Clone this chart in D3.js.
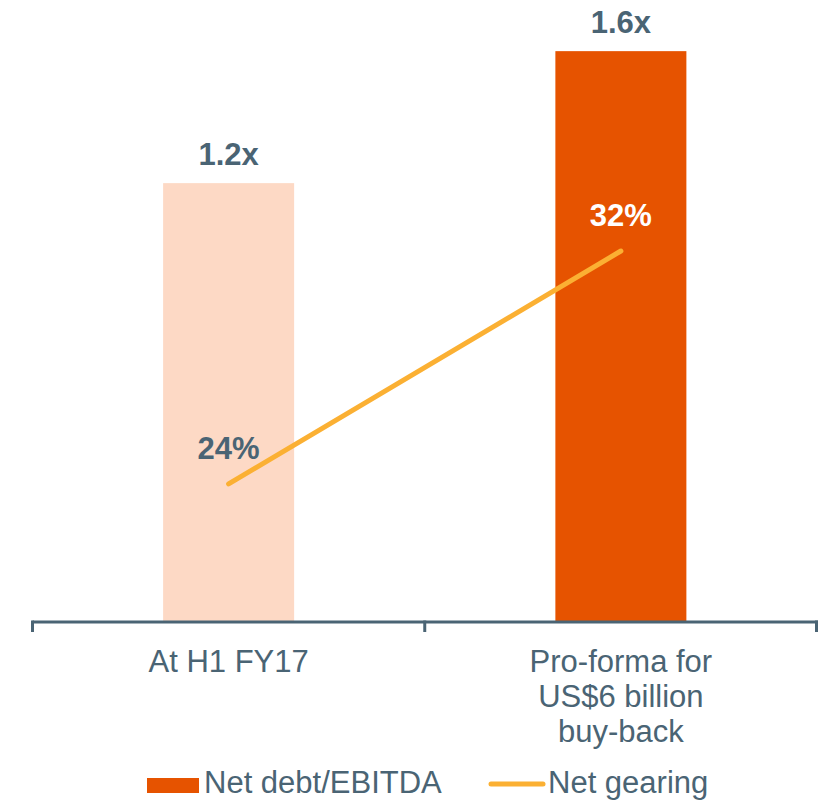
<!DOCTYPE html>
<html>
<head>
<meta charset="utf-8">
<script src="https://cdn.jsdelivr.net/npm/d3@7"></script>
<style>
  body { margin: 0; background: #fff; }
  text { font-family: "Liberation Sans", Arial, sans-serif; }
</style>
</head>
<body>
<div id="chart"></div>
<script>
// données
const categories = ["At H1 FY17", "Pro-forma for\nUS$6 billion\nbuy-back"]
const debtEbitda = [1.2, 1.6]
const debtLabels = ["1.2x", "1.6x"]
const gearing = [24, 32]
const gearingLabels = ["24%", "32%"]
const legendNames = ["Net debt/EBITDA", "Net gearing"]

const W = 818, H = 802
const textColor = "#4a6474"
const barColors = ["#fdd9c5", "#e65300"]
const lineColor = "#fbb033"

let margin = { top: 0, left: 32.5, right: 1, bottom: 180 },
    axisY = 622

let svg = d3.select("#chart")
    .append("svg")
    .attr("width", W)
    .attr("height", H)

// X : bandes par catégorie
let x = d3.scaleBand()
    .domain(categories)
    .range([margin.left, W - margin.right])
    .paddingInner(0)
    .paddingOuter(0)

let barW = x.bandwidth() * 0.334

// Y principal (ratio), l'axe ne part pas de zéro comme dans l'original
let y = d3.scaleLinear()
    .domain([-0.13, 1.755])
    .range([axisY, 0])

// Y secondaire (%)
let y2 = d3.scaleLinear()
    .domain([19.26, 40.62])
    .range([axisY, 0])

// barres
svg.append("g")
    .selectAll("rect")
    .data(debtEbitda)
    .join("rect")
    .attr("x", (d, i) => x(categories[i]) + x.bandwidth() / 2 - barW / 2)
    .attr("y", d => y(d))
    .attr("width", barW)
    .attr("height", d => axisY - y(d))
    .attr("fill", (d, i) => barColors[i])

// étiquettes des barres
svg.append("g")
    .selectAll("text")
    .data(debtEbitda)
    .join("text")
    .attr("x", (d, i) => x(categories[i]) + x.bandwidth() / 2)
    .attr("y", d => y(d) - 18)
    .attr("text-anchor", "middle")
    .attr("font-size", 31)
    .attr("font-weight", "bold")
    .attr("fill", textColor)
    .text((d, i) => debtLabels[i])

// axe X
let xAxis = svg.append("g")
    .attr("transform", "translate(0," + axisY + ")")
    .call(d3.axisBottom(x).tickSize(0).tickFormat(""))
xAxis.select(".domain").remove()
xAxis.append("line")
    .attr("x1", margin.left).attr("x2", W)
    .attr("stroke", textColor).attr("stroke-width", 3)
let bounds = [x.range()[0], x.range()[0] + x.step(), x.range()[1] - 0.5]
xAxis.selectAll(".sep")
    .data(bounds)
    .join("line")
    .attr("class", "sep")
    .attr("x1", d => d).attr("x2", d => d)
    .attr("y1", -1.5).attr("y2", 10)
    .attr("stroke", textColor).attr("stroke-width", 3)

// libellés des catégories
svg.append("g")
    .selectAll("text")
    .data(categories)
    .join("text")
    .attr("x", d => x(d) + x.bandwidth() / 2)
    .attr("y", 672)
    .attr("text-anchor", "middle")
    .attr("font-size", 31)
    .attr("fill", textColor)
    .each(function (d) {
        d.split("\n").forEach((l, i) => {
            d3.select(this).append("tspan")
                .attr("x", x(d) + x.bandwidth() / 2)
                .attr("dy", i === 0 ? 0 : 35)
                .text(l)
        })
    })

// ligne de gearing
let line = d3.line()
    .x((d, i) => x(categories[i]) + x.bandwidth() / 2)
    .y(d => y2(d))

svg.append("path")
    .datum(gearing)
    .attr("d", line)
    .attr("fill", "none")
    .attr("stroke", lineColor)
    .attr("stroke-width", 5)
    .attr("stroke-linecap", "round")

svg.append("g")
    .selectAll("text")
    .data(gearing)
    .join("text")
    .attr("x", (d, i) => x(categories[i]) + x.bandwidth() / 2)
    .attr("y", d => y2(d) - 25)
    .attr("text-anchor", "middle")
    .attr("font-size", 31)
    .attr("font-weight", "bold")
    .attr("fill", (d, i) => i === 1 ? "#ffffff" : textColor)
    .text((d, i) => gearingLabels[i])

// légende
let legend = svg.append("g")
legend.append("rect")
    .attr("x", 147).attr("y", 778)
    .attr("width", 52).attr("height", 15)
    .attr("fill", barColors[1])
legend.append("text")
    .attr("x", 204).attr("y", 793)
    .attr("font-size", 31)
    .attr("fill", textColor)
    .text(legendNames[0])
legend.append("line")
    .attr("x1", 491).attr("x2", 543)
    .attr("y1", 784).attr("y2", 784)
    .attr("stroke", lineColor)
    .attr("stroke-width", 5)
    .attr("stroke-linecap", "round")
legend.append("text")
    .attr("x", 548).attr("y", 793)
    .attr("font-size", 31)
    .attr("fill", textColor)
    .text(legendNames[1])
</script>
</body>
</html>
